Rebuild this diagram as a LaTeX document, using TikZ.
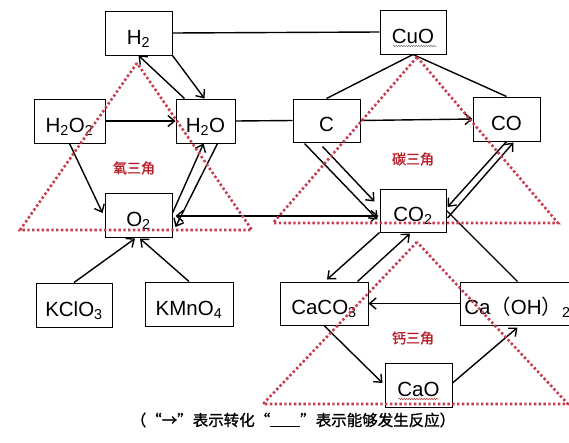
\documentclass[tikz,border=0pt]{standalone}
\usepackage{fontspec}
\setmainfont{Liberation Sans}
\newfontfamily\cjk{Noto Sans CJK SC}
\newfontfamily\cjkb[FakeBold=1.2]{Noto Sans CJK SC}
\usetikzlibrary{arrows.meta,calc,decorations.pathmorphing}
\definecolor{tri}{RGB}{200,60,80}
\definecolor{lab}{RGB}{185,30,40}
\begin{document}
\begin{tikzpicture}[x=1pt,y=-1pt,
  box/.style={draw, line width=1pt, minimum height=44pt, inner sep=0pt,
    text height=22pt, text depth=0pt, font=\fontsize{20.5}{24}\selectfont},
  conn/.style={line width=1.4pt},
  arr/.style={conn, -{Straight Barb[length=6.5pt,width=11pt,line width=1.4pt]}},
  dualarr/.style={conn, {Straight Barb[length=6.5pt,width=11pt,line width=1.4pt]}-{Straight Barb[length=6.5pt,width=11pt,line width=1.4pt]}},
  tridot/.style={tri, line width=2.6pt, dash pattern=on 2.4pt off 2.4pt},
  tlab/.style={lab, font=\cjkb\fontsize{14}{16}\selectfont},
  wavy/.style={gray, line width=0.5pt, decorate, decoration={snake, amplitude=0.8pt, segment length=2.5pt}}
]
\fill[white] (0,0) rectangle (569,442);
\path[use as bounding box, clip] (0,0) rectangle (569,442);

% boxes
\node[box, minimum width=67pt] (h2) at (138.5,33) {H\textsubscript{2}};
\node[box, minimum width=66pt] (cuo) at (413,32) {CuO};
\node[box, minimum width=71pt] (h2o2) at (69.5,121) {H\textsubscript{2}O\textsubscript{2}};
\node[box, minimum width=59pt] (h2o) at (205.5,121) {H\textsubscript{2}O};
\node[box, minimum width=67pt, minimum height=43pt] (c) at (326.5,120.5) {C};
\node[box, minimum width=67pt] (co) at (506.5,119) {CO};
\node[box, minimum width=67pt] (o2) at (138.5,215) {O\textsubscript{2}};
\node[box, minimum width=66pt, minimum height=43pt] (co2) at (413,210.5) {CO\textsubscript{2}};
\node[box, minimum width=76pt] (kclo3) at (74,305) {KClO\textsubscript{3}};
\node[box, minimum width=88pt] (kmno4) at (189,304) {KMnO\textsubscript{4}};
\node[box, minimum width=88pt, minimum height=43pt] (caco3) at (324,303.5) {CaCO\textsubscript{3}};
\node[box, minimum width=115pt, minimum height=43pt] (caoh) at (517.5,303.5) {Ca{\cjk （}OH{\cjk ）}\textsubscript{2}};
\node[box, minimum width=67pt] (cao) at (418.5,385) {CaO};

% spell-check underlines
\draw[wavy] ($(cuo.center)+(-20,14)$) -- ($(cuo.center)+(24,14)$);
\draw[wavy, color=red!50!gray] ($(cao.center)+(-20,14)$) -- ($(cao.center)+(20,14)$);

% connectors (reaction lines)
\draw[conn] (h2.east) -- (cuo.west);
\draw[conn] (h2o.east) -- (c.west);
\draw[conn] (cuo.south) -- (c.north);
\draw[conn] (cuo.south) -- (co.north);
\draw[conn] (co2.east) -- (caoh.north);

% arrows (transformations)
\draw[arr] (c.east) -- (co.west);
\draw[arr] (h2o2.east) -- (h2o.west);
\draw[arr] (h2o2.south) -- ($(o2.west)+(-2,-2)$);
\draw[arr] (h2.south east) -- ($(h2o.north)+(-1,0)$);
\draw[arr] ($(h2o.north west)+(9,0)$) -- (h2.south);
\draw[arr] ($(o2.east)+(0,-2)$) -- ($(h2o.south)+(-2,0)$);
\draw[arr] ($(h2o.south)+(12,0)$) -- ($(o2.east)+(3,12)$);
\draw[dualarr] ($(o2.east)+(3,1)$) -- ($(co2.west)+(-1,5.5)$);
\draw[arr] ($(c.south west)+(12,1)$) -- ($(co2.west)+(-2,9)$);
\draw[arr] ($(c.south)+(-4,4)$) -- ($(co2.north west)+(-5,13)$);
\draw[arr] (co.south) -- ($(co2.east)+(1,-3.5)$);
\draw[arr] ($(co2.east)+(1,7.5)$) -- ($(co.south)+(7,1)$);
\draw[arr] (co2.south west) -- ($(caco3.north)+(3,-2)$);
\draw[arr] ($(caco3.north east)+(-11,0)$) -- ($(co2.south)+(-3,1)$);
\draw[arr] (caoh.west) -- (caco3.east);
\draw[arr] (caco3.south) -- ($(cao.west)+(-2,-2)$);
\draw[arr] ($(cao.east)+(0,-2)$) -- ($(caoh.south)+(0,2)$);
\draw[arr] (kclo3.north) -- ($(o2.south)+(-3.5,1)$);
\draw[arr] (kmno4.north) -- ($(o2.south)+(1.5,1)$);

% triangles
\draw[tridot] (137,63) -- (20,230) -- (252,230) -- cycle;
\draw[tridot] (417,57) -- (273,223) -- (558,223) -- cycle;
\draw[tridot] (417,242) -- (263,404) -- (568,404) -- cycle;

% triangle labels
\node[tlab] (lo) at (134,168) {氧三角};
\node[tlab] (lc) at (413,159) {碳三角};
\node[tlab] (lca) at (413,338) {钙三角};

% caption
\node[font=\cjkb\fontsize{15.5}{18}\selectfont] (cap) at (293,420)
  {（“→”表示转化“\rule[-1.5pt]{30pt}{0.9pt}”表示能够发生反应）};
\end{tikzpicture}
\end{document}
